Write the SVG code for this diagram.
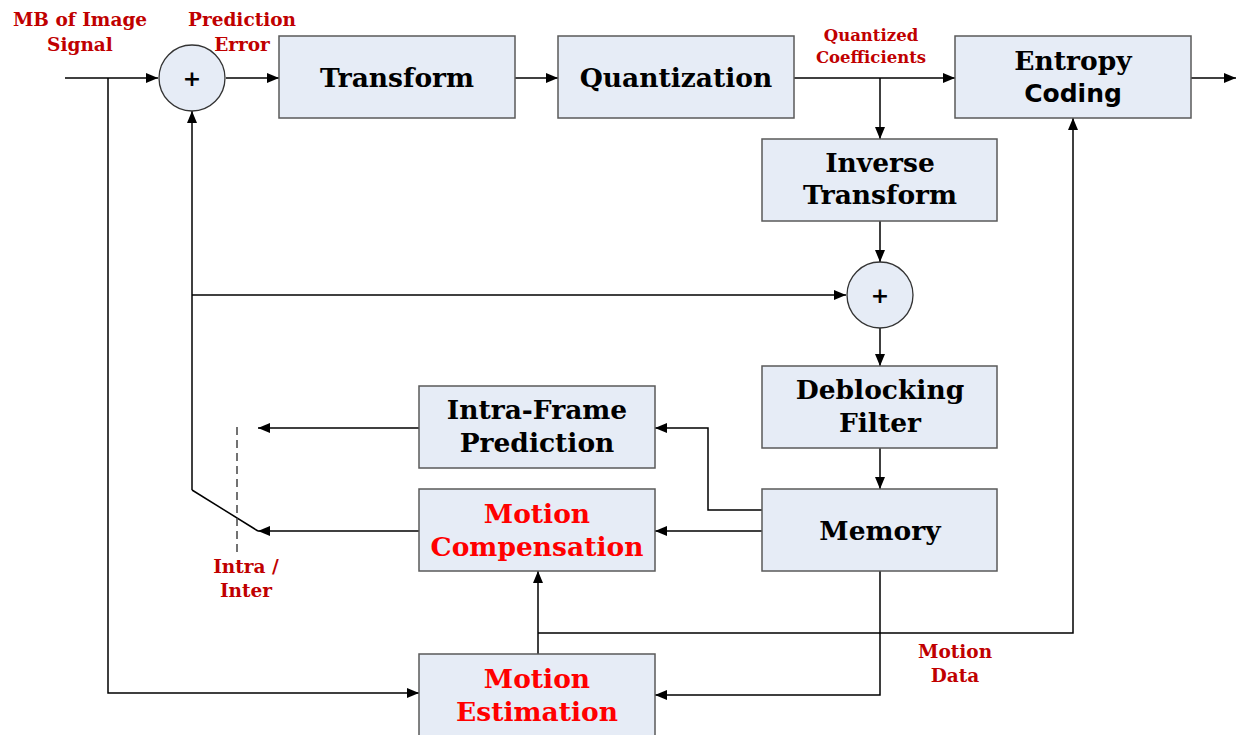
<svg xmlns="http://www.w3.org/2000/svg" width="1236" height="735" viewBox="0 0 1236 735">
<style>
.box{fill:#E6ECF6;stroke:#5a5a5a;stroke-width:1.5}
.sum{fill:#E6ECF6;stroke:#333;stroke-width:1.3}
.t{font-family:"DejaVu Serif","Liberation Serif",serif;font-weight:bold;font-size:26.5px;fill:#000;text-anchor:middle}
.r{fill:#FF0000}
.s{font-family:"DejaVu Sans","Liberation Sans",sans-serif;font-weight:bold;font-size:25px;fill:#000;text-anchor:middle}
.l{font-family:"DejaVu Serif","Liberation Serif",serif;font-weight:bold;font-size:18.5px;fill:#C00000;text-anchor:middle}
.ls{font-size:16.5px}
.c{fill:none;stroke:#000;stroke-width:1.5}
.ca{fill:none;stroke:#000;stroke-width:1.5;marker-end:url(#a)}
.p{font-family:"DejaVu Sans","Liberation Sans",sans-serif;font-weight:bold;font-size:22px;fill:#000;text-anchor:middle}
</style>
<defs>
<marker id="a" markerWidth="12" markerHeight="10" refX="12" refY="5" orient="auto" markerUnits="userSpaceOnUse">
<path d="M0,0 L12,5 L0,10 Z" fill="#000"/>
</marker>
</defs>
<g id="connectors">
<path class="ca" d="M65,78 H158"/>
<path class="ca" d="M108,78 V693 H419"/>
<path class="ca" d="M226,78 H279"/>
<path class="ca" d="M515,78 H558"/>
<path class="ca" d="M794,78 H955"/>
<path class="ca" d="M880,78 V139"/>
<path class="ca" d="M1191,78 H1236"/>
<path class="ca" d="M880,221 V262"/>
<path class="ca" d="M192,295 H846"/>
<path class="ca" d="M880,328 V366"/>
<path class="ca" d="M880,448 V489"/>
<path class="ca" d="M762,510 H708 V428 H655"/>
<path class="ca" d="M762,531 H655"/>
<path class="ca" d="M880,571 V695 H655"/>
<path class="ca" d="M538,654 V571"/>
<path class="ca" d="M538,633 H1073 V118"/>
<path class="ca" d="M419,428 H258"/>
<path class="ca" d="M419,531 H258"/>
<path class="c" d="M258,531 L192,490"/>
<path class="ca" d="M192,490 V111"/>
<path d="M237,427 V552" fill="none" stroke="#444" stroke-width="1.5" stroke-dasharray="8,5"/>
</g>
<g id="sum1"><circle class="sum" cx="192" cy="78" r="33"/><text class="p" x="192" y="86">+</text></g>
<g id="sum2"><circle class="sum" cx="880" cy="295" r="33"/><text class="p" x="880" y="303">+</text></g>
<g id="transform"><rect class="box" x="279" y="36" width="236" height="82"/><text class="t" x="397" y="87">Transform</text></g>
<g id="quantization"><rect class="box" x="558" y="36" width="236" height="82"/><text class="t" x="676" y="87">Quantization</text></g>
<g id="entropy"><rect class="box" x="955" y="36" width="236" height="82"/><text class="t" x="1073" y="70">Entropy</text><text class="s" x="1073" y="102">Coding</text></g>
<g id="inverse"><rect class="box" x="762" y="139" width="235" height="82"/><text class="t" x="880" y="172">Inverse</text><text class="t" x="880" y="204">Transform</text></g>
<g id="deblocking"><rect class="box" x="762" y="366" width="235" height="82"/><text class="t" x="880" y="399">Deblocking</text><text class="t" x="880" y="432">Filter</text></g>
<g id="memory"><rect class="box" x="762" y="489" width="235" height="82"/><text class="t" x="880" y="540">Memory</text></g>
<g id="intra"><rect class="box" x="419" y="386" width="236" height="82"/><text class="t" x="537" y="419">Intra-Frame</text><text class="t" x="537" y="452">Prediction</text></g>
<g id="mc"><rect class="box" x="419" y="489" width="236" height="82"/><text class="t r" x="537" y="523">Motion</text><text class="t r" x="537" y="556">Compensation</text></g>
<g id="me"><rect class="box" x="419" y="654" width="236" height="90"/><text class="t r" x="537" y="688">Motion</text><text class="t r" x="537" y="721">Estimation</text></g>
<g id="labels">
<text class="l" x="80" y="26">MB of Image</text><text class="l" x="80" y="51">Signal</text>
<text class="l" x="242" y="26">Prediction</text><text class="l" x="242" y="51">Error</text>
<text class="l ls" x="871" y="41">Quantized</text><text class="l ls" x="871" y="63">Coefficients</text>
<text class="l" x="246" y="573">Intra /</text><text class="l" x="246" y="597">Inter</text>
<text class="l" x="955" y="658">Motion</text><text class="l" x="955" y="682">Data</text>
</g>
</svg>
